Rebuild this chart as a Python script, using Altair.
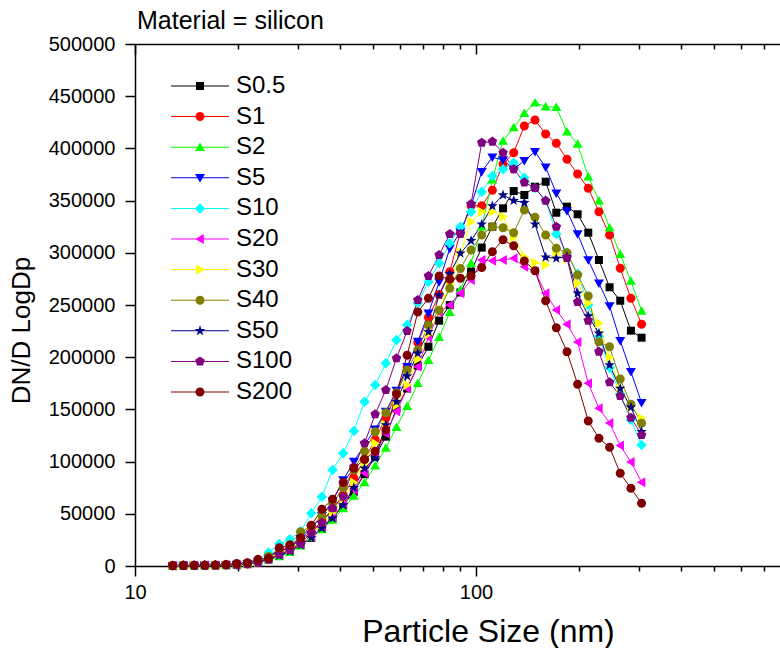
import altair as alt
import pandas as pd

FONT = "Liberation Sans"

# Mobility-diameter channel midpoints (nm)
sizes = [12.90, 13.86, 14.90, 16.01, 17.20, 18.49, 19.87, 21.35, 22.94, 24.65,
         26.49, 28.47, 30.59, 32.87, 35.33, 37.96, 40.79, 43.84, 47.11, 50.62,
         54.40, 58.46, 62.82, 67.50, 72.54, 77.95, 83.77, 90.02, 96.73, 103.95,
         111.70, 120.04, 128.99, 138.61, 148.96, 160.07, 172.01, 184.84, 198.63, 213.45,
         229.38, 246.49, 264.88, 284.64, 305.87]

series_names = ["S0.5", "S1", "S2", "S5", "S10", "S20", "S30", "S40", "S50", "S100", "S200"]
series_colors = ["#000000", "#FF0000", "#00FF00", "#0000FF", "#00FFFF", "#FF00FF",
                 "#FFFF00", "#808000", "#000080", "#800080", "#800000"]

# DN/D LogDp for each sample
s0_5 = [300, 400, 500, 600, 700, 900, 1300, 2000, 3500,
        7000, 9600, 14000, 20000, 27000, 36000, 46000, 58000, 71200, 88000,
        105000, 123900, 151000, 170000, 192000, 210000, 235000, 250000, 262000, 282000,
        305000, 325000, 342600, 359200, 355400, 363300, 368100, 338400, 344200, 336900,
        319300, 293100, 267000, 254100, 225400, 218700]
s1 = [300, 400, 500, 600, 700, 900, 1300, 2000, 3500,
      9500, 13500, 18500, 25000, 33000, 43000, 54000, 68000, 84000, 102000,
      121000, 142000, 165000, 190000, 214000, 238000, 260000, 281900, 320000, 345000,
      345000, 360000, 385000, 395900, 421500, 427200, 413800, 404900, 389600, 375500,
      361800, 339400, 317100, 285200, 256400, 231500]
s2 = [300, 400, 500, 600, 700, 900, 1300, 2000, 3500,
      6000, 9000, 13500, 19500, 27500, 35000, 44000, 55000, 67000, 80000,
      96000, 113000, 133000, 153000, 175000, 197000, 219100, 243000, 264400, 290000,
      325000, 370000, 407100, 419900, 433600, 443800, 440000, 439400, 416000, 404200,
      372900, 349900, 324100, 298600, 273000, 244300]
s5 = [300, 400, 500, 600, 700, 900, 1300, 2000, 3500,
      8900, 13000, 18000, 26000, 36000, 48000, 62000, 82400, 100000, 116000,
      131000, 148000, 168000, 190900, 215000, 242100, 272000, 304000, 320000, 345000,
      377700, 391500, 388900, 380000, 388200, 396800, 381900, 357000, 340000, 318000,
      293100, 270800, 249000, 215800, 186100, 156400]
s10 = [300, 400, 500, 600, 800, 1100, 1700, 2800, 6000,
       13000, 21000, 25600, 33000, 50500, 66400, 92000, 108000, 129300, 157400,
       173400, 194200, 216500, 230900, 252000, 272000, 290000, 309100, 325000, 339400,
       358500, 373600, 380000, 386300, 372000, 362000, 350000, 318000, 300000, 280000,
       250000, 220000, 190000, 165000, 140000, 115900]
s20 = [300, 400, 500, 600, 700, 900, 1300, 2000, 3500,
       7500, 11000, 15500, 21000, 28000, 37000, 47000, 59000, 73000, 89000,
       107000, 127000, 148000, 170000, 190900, 219100, 243000, 250000, 261200, 274000,
       293100, 292400, 293100, 294700, 286700, 281900, 261200, 245200, 231500, 214500,
       175000, 151000, 137000, 115400, 99600, 80300]
s30 = [300, 400, 500, 600, 700, 900, 1300, 2000, 3500,
       8000, 12000, 16500, 22500, 30500, 40000, 51000, 64000, 80000, 98000,
       117500, 135000, 154000, 173400, 198000, 222000, 245000, 270000, 300000, 329800,
       339400, 339400, 334600, 315000, 296300, 290500, 288300, 299500, 294000, 270800,
       251600, 232500, 200000, 170200, 152600, 141500]
s40 = [300, 400, 500, 600, 700, 900, 1300, 2000, 3500,
       9000, 14000, 20000, 32900, 38000, 47900, 60000, 75000, 92000, 110000,
       128600, 146800, 166000, 187700, 206900, 230800, 245000, 266000, 285000, 302700,
       317100, 325000, 324000, 319300, 341000, 334000, 317100, 304300, 300100, 278700,
       258600, 214800, 210000, 179000, 155000, 136700]
s50 = [300, 400, 500, 600, 700, 900, 1300, 2000, 3500,
       7000, 10000, 14000, 20000, 27000, 36100, 45700, 58400, 75000, 93600,
       103200, 135000, 157400, 182000, 203700, 224400, 259600, 280000, 299500, 311600,
       327300, 344800, 355400, 350000, 348000, 327300, 295700, 294700, 296300, 261200,
       239500, 222900, 192500, 170000, 152000, 128600]
s100 = [300, 400, 500, 600, 700, 900, 1300, 2000, 3500,
        6000, 11000, 15300, 21700, 31900, 41500, 55300, 66400, 95100, 117500,
        145300, 168600, 199000, 225100, 254800, 277800, 297900, 318000, 318000, 346800,
        405500, 406500, 395900, 380000, 367500, 362000, 349900, 325000, 295000, 252900,
        235000, 205300, 176000, 162800, 142100, 125500]
s200 = [500, 600, 700, 800, 1000, 1500, 2500, 3000, 6400,
        7400, 17500, 20000, 27000, 39000, 54300, 63900, 80000, 93600, 102000,
        110000, 130300, 164800, 201800, 243300, 256400, 277800, 274600, 275600, 277800,
        286000, 301000, 312500, 306800, 292200, 282900, 254100, 228300, 205300, 174100,
        138900, 122300, 113700, 88800, 74400, 60100]

all_series = [s0_5, s1, s2, s5, s10, s20, s30, s40, s50, s100, s200]

heading = ["Material = silicon"]

rows = []
for order, (name, vals) in enumerate(zip(series_names, all_series)):
    for d, v in zip(sizes, vals):
        rows.append({"series": name, "order": order, "size": d, "value": v})
df = pd.DataFrame(rows)
key_df = pd.DataFrame({"series": series_names})
heading_df = pd.DataFrame({"label": heading})

# Marker outlines (unit = 5 px at size 100), all wound clockwise
circle = "M0.9,0A0.9,0.9,0,1,1,-0.9,0A0.9,0.9,0,1,1,0.9,0Z"
markers = [
    "M-0.8,-0.8L0.8,-0.8L0.8,0.8L-0.8,0.8Z",                     # square
    circle,                                                      # circle
    "M0,-0.95L1,0.75L-1,0.75Z",                                  # triangle up
    "M0,0.95L-1,-0.75L1,-0.75Z",                                 # triangle down
    "M0,-1.05L1.05,0L0,1.05L-1.05,0Z",                           # diamond
    "M-0.95,0L0.75,-1L0.75,1Z",                                  # triangle left
    "M0.95,0L-0.75,1L-0.75,-1Z",                                 # triangle right
    circle,                                                      # circle
    "M0,-1.1L0.265,-0.364L1.046,-0.34L0.428,0.139L0.647,0.89L0,0.45"
    "L-0.647,0.89L-0.428,0.139L-1.046,-0.34L-0.265,-0.364Z",     # star
    "M0,-1L0.951,-0.309L0.588,0.809L-0.588,0.809L-0.951,-0.309Z",  # pentagon
    circle,                                                      # ball
]
# Legend keys: marker with a short line through it
key_line = "M-5.8,-0.1L-0.5,-0.1L-0.5,0.1L-5.8,0.1ZM0.5,-0.1L5.8,-0.1L5.8,0.1L0.5,0.1Z"
key_shapes = [key_line + m for m in markers]

PLOT_W, PLOT_H = 645, 522
major_x = [10, 100]
minor_x = [20, 30, 40, 50, 60, 70, 80, 90, 200, 300, 400, 500, 600, 700]
y_ticks = list(range(0, 500001, 25000))

x_scale = alt.Scale(type="log", domain=[10, 779], nice=False)
y_scale = alt.Scale(domain=[0, 500000], nice=False)

x_tick_size = {"condition": {"test": "datum.value == 10 || datum.value == 100", "value": 10}, "value": 5}
y_tick_size = {"condition": {"test": "datum.value % 50000 == 0", "value": 10}, "value": 5}

axis_common = dict(
    grid=False, domainColor="black", tickColor="black", domainWidth=1.5, tickWidth=1.5,
    labelColor="black", labelFont=FONT, labelFontSize=20, labelOverlap=False,
    labelFlush=False, titleFont=FONT, titleFontWeight="normal", titleColor="black",
)

bottom_axis = alt.Axis(
    orient="bottom", values=major_x + minor_x, tickSize=x_tick_size,
    labelExpr="datum.value == 10 || datum.value == 100 ? datum.label : ''",
    labelPadding=6, title="Particle Size (nm)", titleFontSize=32,
    titleX=353, titleY=75, titleBaseline="alphabetic", titleAlign="center",
    **axis_common,
)
top_axis = alt.Axis(
    orient="bottom", offset=-PLOT_H, values=major_x + minor_x, tickSize=x_tick_size,
    labels=False, title=None, grid=False, domainColor="black", tickColor="black",
    domainWidth=1.5, tickWidth=1.5,
)
left_axis = alt.Axis(
    orient="left", values=y_ticks, tickSize=y_tick_size, format="d",
    labelExpr="datum.value % 50000 == 0 ? datum.label : ''", labelPadding=10,
    title="DN/D LogDp", titleFontSize=26, titleAngle=-90,
    titleX=-106, titleY=286, titleBaseline="alphabetic", titleAlign="center",
    **axis_common,
)

color_scale = alt.Scale(domain=series_names, range=series_colors)

lines = alt.Chart(df).mark_line(strokeWidth=1).encode(
    x=alt.X("size:Q", scale=x_scale, axis=bottom_axis),
    y=alt.Y("value:Q", scale=y_scale, axis=left_axis),
    color=alt.Color("series:N", scale=color_scale, legend=None),
    order=alt.Order("size:Q"),
)

points = alt.Chart(df).mark_point(filled=True, opacity=1, size=100, strokeWidth=0).encode(
    x=alt.X("size:Q", scale=x_scale, axis=top_axis),
    y=alt.Y("value:Q", scale=y_scale),
    color=alt.Color("series:N", scale=color_scale, legend=None),
    shape=alt.Shape("series:N", scale=alt.Scale(domain=series_names, range=markers), legend=None),
    order=alt.Order("order:Q"),
)

key_legend = alt.Legend(
    title=None, orient="none", legendX=53, legendY=30, padding=0,
    symbolSize=100, symbolStrokeWidth=0, symbolOpacity=1,
    labelFont=FONT, labelFontSize=24, labelColor="black", labelOffset=24,
    rowPadding=6.6, labelLimit=200,
)

# Legend-only layer: zero-size symbols, so only the legend entries show
key = alt.Chart(key_df).mark_point(filled=True, opacity=1, size=0).encode(
    x=alt.value(0),
    y=alt.value(0),
    color=alt.Color("series:N", scale=alt.Scale(domain=series_names, range=series_colors),
                    legend=key_legend),
    shape=alt.Shape("series:N", scale=alt.Scale(domain=series_names, range=key_shapes),
                    legend=key_legend),
)

# Heading above the top-left corner of the plot
head = alt.Chart(heading_df).mark_text(
    align="left", baseline="alphabetic", font=FONT, fontSize=25, color="black",
).encode(text="label:N", x=alt.value(2), y=alt.value(-15))

chart = (
    alt.layer(lines, points, key, head)
    .resolve_scale(color="independent", shape="independent")
    .resolve_axis(x="independent")
    .properties(
        width=PLOT_W,
        height=PLOT_H,
        autosize=alt.AutoSizeParams(type="none"),
        padding={"left": 135, "top": 44, "right": 0, "bottom": 82},
        background="white",
    )
    .configure_view(stroke=None)
)

chart.save("out.html", embed_options={"renderer": "svg", "actions": False})
